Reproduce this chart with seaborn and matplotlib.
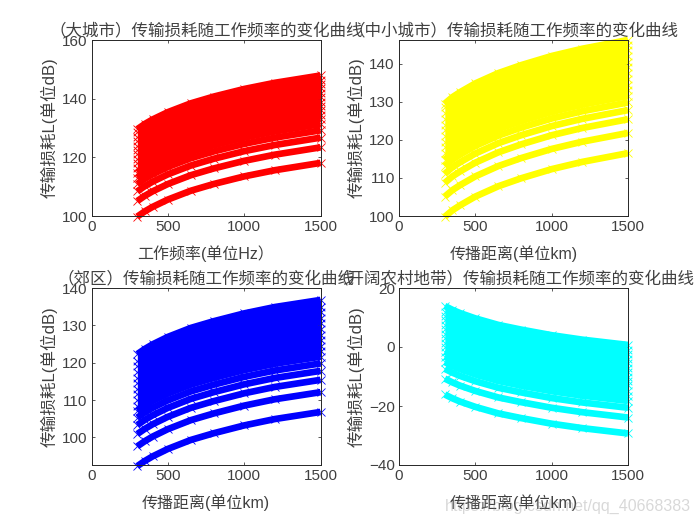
import matplotlib
matplotlib.use("Agg")
import matplotlib.pyplot as plt
import seaborn as sns

freq = [300, 350, 400, 500, 650, 800, 1000, 1200, 1500]

red_bands = [
    [99.8, 101.6, 103.1, 105.6, 108.6, 110.9, 113.5, 115.6, 118.1],
    [105.1, 106.9, 108.4, 110.9, 113.9, 116.2, 118.8, 120.9, 123.4],
    [108.4, 110.2, 111.7, 114.2, 117.2, 119.5, 122.1, 124.2, 126.7],
    [110.9, 112.7, 114.2, 116.7, 119.7, 122.0, 124.6, 126.7, 129.2],
    [113.0, 114.8, 116.3, 118.8, 121.8, 124.1, 126.7, 128.8, 131.3],
]
red_low = [114.8, 116.6, 118.1, 120.6, 123.6, 125.9, 128.5, 130.6, 133.1]
red_top = [129.6, 131.4, 132.9, 135.4, 138.4, 140.7, 143.3, 145.4, 147.9]
red_left = [116.5, 118, 119.5, 121, 122.5, 124, 125.5, 127, 128.5]
red_right = [134.5, 136, 137.5, 139, 140.5, 142, 143.5, 145, 146.5]

yellow_bands = [
    [99.8, 101.5, 102.8, 105.1, 107.8, 109.9, 112.3, 114.2, 116.5],
    [105.1, 106.8, 108.1, 110.4, 113.1, 115.2, 117.6, 119.5, 121.8],
    [108.7, 110.4, 111.7, 114.0, 116.7, 118.8, 121.2, 123.1, 125.4],
    [111.1, 112.8, 114.1, 116.4, 119.1, 121.2, 123.6, 125.5, 127.8],
    [113.1, 114.8, 116.1, 118.4, 121.1, 123.2, 125.6, 127.5, 129.8],
]
yellow_low = [114.8, 116.5, 117.8, 120.1, 122.8, 124.9, 127.3, 129.2, 131.5]
yellow_top = [129.5, 131.2, 132.5, 134.8, 137.5, 139.6, 142.0, 143.9, 146.2]
yellow_left = [116.5, 118, 119.5, 121, 122.5, 124, 125.5, 127, 128.5]
yellow_right = [133, 134.5, 136, 137.5, 139, 140.5, 142, 143.5, 145]

blue_bands = [
    [92.3, 93.7, 94.9, 96.9, 99.3, 101.1, 103.2, 104.9, 106.8],
    [97.6, 99.0, 100.2, 102.2, 104.6, 106.4, 108.5, 110.2, 112.1],
    [100.9, 102.3, 103.5, 105.5, 107.9, 109.7, 111.8, 113.5, 115.4],
    [103.3, 104.7, 105.9, 107.9, 110.3, 112.1, 114.2, 115.9, 117.8],
    [105.3, 106.7, 107.9, 109.9, 112.3, 114.1, 116.2, 117.9, 119.8],
]
blue_low = [107.1, 108.5, 109.7, 111.7, 114.1, 115.9, 118.0, 119.7, 121.6]
blue_top = [122.3, 123.7, 124.9, 126.9, 129.3, 131.1, 133.2, 134.9, 136.8]
blue_left = [108.5, 110, 111.5, 113, 114.5, 116, 117.5, 119, 120.5]
blue_right = [123, 124.5, 126, 127.5, 129, 130.5, 132, 133.5, 135]

cyan_bands = [
    [-16.1, -17.4, -18.5, -20.3, -22.5, -24.1, -26.0, -27.5, -29.3],
    [-10.7, -12.0, -13.1, -14.9, -17.1, -18.7, -20.6, -22.1, -23.9],
    [-7.4, -8.7, -9.8, -11.6, -13.8, -15.4, -17.3, -18.8, -20.6],
    [-5.1, -6.4, -7.5, -9.3, -11.5, -13.1, -15.0, -16.5, -18.3],
    [-3.3, -4.6, -5.7, -7.5, -9.7, -11.3, -13.2, -14.7, -16.5],
]
cyan_low = [-1.6, -2.9, -4.0, -5.8, -8.0, -9.6, -11.5, -13.0, -14.8]
cyan_top = [13.9, 12.6, 11.5, 9.7, 7.5, 5.9, 4.0, 2.5, 0.7]
cyan_left = [0, 1.5, 3, 4.5, 6, 7.5, 9, 10.5, 12]
cyan_right = [-13, -11.5, -10, -8.5, -7, -5.5, -4, -2.5, -1]

x_ticks = [0, 500, 1000, 1500]
titles = [
    "（大城市）传输损耗随工作频率的变化曲线",
    "（中小城市）传输损耗随工作频率的变化曲线",
    "（郊区）传输损耗随工作频率的变化曲线",
    "（开阔农村地带）传输损耗随工作频率的变化曲线",
]
xlabels = ["工作频率(单位Hz）", "传播距离(单位km)", "传播距离(单位km)", "传播距离(单位km)"]
ylabel = "传输损耗L(单位dB)"
watermark = "https://blog.csdn.net/qq_40668383"

sns.set_style("white")
plt.rcParams["font.family"] = ["Liberation Sans", "Noto Sans CJK SC"]

W, H = 700, 525
fig = plt.figure(figsize=(7, 5.25), dpi=100)
INK = "#404040"

panels = [
    ((91.5, 40, 320.5, 216), "#ff0000", red_bands, red_low, red_top, red_left, red_right, (100, 160), [100, 120, 140, 160]),
    ((399, 40, 628, 216), "#ffff00", yellow_bands, yellow_low, yellow_top, yellow_left, yellow_right, (100, 146.2), [100, 110, 120, 130, 140]),
    ((91.5, 288, 320.5, 465), "#0000ff", blue_bands, blue_low, blue_top, blue_left, blue_right, (92.6, 140), [100, 110, 120, 130, 140]),
    ((399, 288, 628, 465), "#00ffff", cyan_bands, cyan_low, cyan_top, cyan_left, cyan_right, (-40, 20), [-40, -20, 0, 20]),
]

for i, (box, col, bands, low, top, left, right, ylim, yticks) in enumerate(panels):
    x0, y0, x1, y1 = box
    ax = fig.add_axes([x0 / W, 1 - y1 / H, (x1 - x0) / W, (y1 - y0) / H])
    ax.fill_between(freq, low, top, color=col, lw=0, clip_on=False, zorder=2)
    for row in bands + [low, top]:
        sns.lineplot(x=freq, y=row, color=col, linewidth=4.8, marker="x", markersize=5.5,
                     markeredgewidth=0.6, markeredgecolor=col, estimator=None,
                     solid_capstyle="butt", clip_on=False, zorder=3, ax=ax)
    sns.scatterplot(x=[freq[0]] * len(left), y=left, color=col, marker="x", s=30,
                    linewidth=0.7, clip_on=False, zorder=3, ax=ax)
    sns.scatterplot(x=[freq[-1]] * len(right), y=right, color=col, marker="x", s=30,
                    linewidth=0.7, clip_on=False, zorder=3, ax=ax)
    ax.set_xlim(0, 1500)
    ax.set_ylim(*ylim)
    ax.set_xticks(x_ticks)
    ax.set_yticks(yticks)
    ax.tick_params(direction="in", length=2.3, width=0.6, colors=INK, labelsize=11,
                   top=True, right=True, bottom=True, left=True, pad=3)
    for s in ax.spines.values():
        s.set_visible(True)
        s.set_color("#262626")
        s.set_linewidth(0.7)
        s.set_zorder(5)
    ax.set_axisbelow(False)
    ax.set_title(titles[i], fontsize=11.9, color=INK, pad=3.5)
    ax.set_xlabel(xlabels[i], fontsize=11.5, color=INK, labelpad=8)
    ax.set_ylabel(ylabel, fontsize=12, color=INK, labelpad=3)

fig.text(691 / W, 1 - 506 / H, watermark, ha="right", va="center", fontsize=11.5,
         color="#808080", alpha=0.3)
fig.savefig("out.png", dpi=100)
